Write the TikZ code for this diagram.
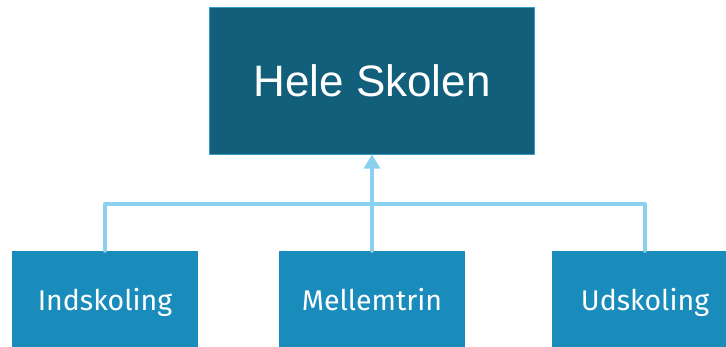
\documentclass[tikz,border=0pt]{standalone}
\usepackage{fontspec}
\usetikzlibrary{arrows.meta}
\newfontfamily\headfont{Liberation Sans}
\newfontfamily\unitfont{Fira Sans}
\definecolor{headfill}{HTML}{115F7A}
\definecolor{headline}{HTML}{3A9BC8}
\definecolor{unitfill}{HTML}{1A8CBB}
\definecolor{linkblue}{HTML}{8AD1EF}
\tikzset{
  headbox/.style={draw=headline, line width=1pt, fill=headfill, text=white,
    minimum width=325pt, minimum height=147pt, inner sep=0pt,
    text height=32pt, text depth=0pt,
    font=\headfont\fontsize{44}{50}\selectfont},
  unitbox/.style={fill=unitfill, text=white,
    minimum width=186pt, minimum height=98pt, inner sep=0pt,
    text height=20pt, text depth=0pt,
    font=\unitfont\fontsize{28.5}{32}\selectfont},
  link/.style={draw=linkblue, line width=4pt, line cap=round, line join=round},
}
\begin{document}
\begin{tikzpicture}[x=1pt,y=-1pt]
  \useasboundingbox (0,0) rectangle (726,346);
  \clip (0,0) rectangle (726,346);
  % top level
  \node[headbox] (whole) at (372,80.5) {Hele Skolen};
  % school departments
  \node[unitbox] (ind) at (105,300) {Indskoling};
  \node[unitbox] (mel) at (372,300) {Mellemtrin};
  \node[unitbox] (uds) at (645,300) {Udskoling};
  % horizontal bus
  \coordinate (bus) at (372,204);
  \draw[link] (ind.north) -- (ind.north |- bus) -- (uds.north |- bus) -- (uds.north);
  \draw[link, -{Triangle[width=16pt,length=14pt]}] (mel.north) -- (whole.south);
\end{tikzpicture}
\end{document}
